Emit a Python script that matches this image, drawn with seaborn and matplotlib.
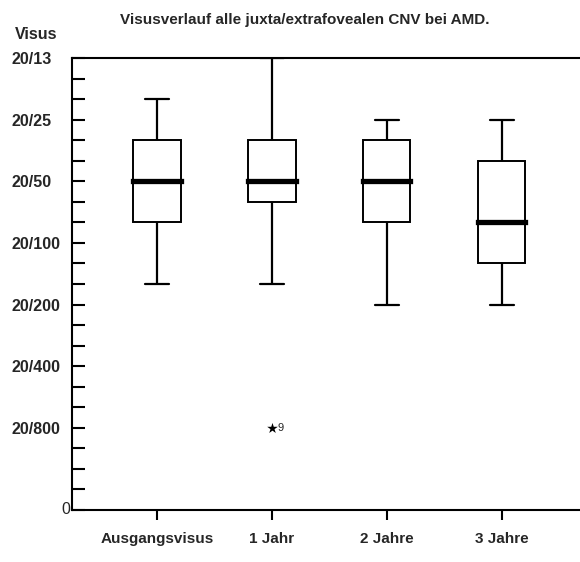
import numpy as np
import pandas as pd
import seaborn as sns
import matplotlib.pyplot as plt

# Visual acuity on a line scale: one unit = one acuity line, 0 = bottom of scale
categories = ["Ausgangsvisus", "1 Jahr", "2 Jahre", "3 Jahre"]
lower_whisker = [11, 11, 10, 10]
q1 = [14, 15, 14, 12]
median = [16, 16, 16, 14]
q3 = [18, 18, 18, 17]
upper_whisker = [20, 22, 19, 19]

outlier_group = ["1 Jahr"]
outlier_value = [4]
outlier_case = ["9"]

acuity_ticks = [22, 19, 16, 13, 10, 7, 4]
acuity_labels = ["20/13", "20/25", "20/50", "20/100", "20/200", "20/400", "20/800"]
line_ticks = list(range(0, 23))

title = "Visusverlauf alle juxta/extrafovealen CNV bei AMD."
y_title = "Visus"

# long table built from the five-number summaries
rows = []
for i, g in enumerate(categories):
    for v in (lower_whisker[i], q1[i], median[i], q3[i], upper_whisker[i]):
        rows.append({"Zeitpunkt": g, "Visus": v})
df = pd.DataFrame(rows)

sns.set_theme(style="white")
plt.rcParams["font.family"] = ["Liberation Sans", "DejaVu Sans"]

fig = plt.figure(figsize=(5.8, 5.62), dpi=100)
ax = fig.add_axes([72 / 580, 52 / 562, 1 - 72 / 580, (510 - 58) / 562])

sns.boxplot(
    data=df, x="Zeitpunkt", y="Visus", order=categories, ax=ax,
    whis=(0, 100), width=0.41, color="white", linecolor="black",
    linewidth=1.4, showfliers=False,
    medianprops=dict(linewidth=3.8, color="black", solid_capstyle="projecting"),
    whiskerprops=dict(linewidth=1.6),
    capprops=dict(linewidth=1.6),
)

sns.stripplot(
    x=outlier_group, y=outlier_value, order=categories, ax=ax,
    jitter=False, marker="*", size=8, color="black", linewidth=0,
)
for g, v, c in zip(outlier_group, outlier_value, outlier_case):
    ax.annotate(c, xy=(categories.index(g), v), xytext=(4, 0),
                textcoords="offset points", ha="left", va="center",
                fontsize=8)

ax.set_xlim(-0.74, 3.68)
ax.set_ylim(0, 22)
ax.set_xlabel("")
ax.set_ylabel("")

ax.set_yticks(acuity_ticks)
ax.set_yticklabels(acuity_labels, fontsize=11.5, fontweight="bold", ha="left")
ax.set_yticks(line_ticks, minor=True)
ax.tick_params(axis="y", which="both", direction="in", length=9.5,
               width=1.5, color="black", pad=43.5, left=True)
ax.annotate("0", xy=(0, 0), xycoords=("axes fraction", "data"),
            xytext=(-1.5, 0), textcoords="offset points",
            ha="right", va="center", fontsize=11.5)

ax.set_xticks(range(len(categories)))
ax.set_xticklabels(categories, fontsize=11, fontweight="bold")
ax.tick_params(axis="x", direction="out", length=7, width=1.5,
               color="black", pad=9, bottom=True)

for side in ("left", "bottom", "top"):
    ax.spines[side].set_visible(True)
    ax.spines[side].set_color("black")
    ax.spines[side].set_linewidth(1.5)
ax.spines["right"].set_visible(False)

fig.text(305 / 580, 1 - 24 / 562, title, ha="center", va="baseline",
         fontsize=11, fontweight="bold")
fig.text(15 / 580, 1 - 39 / 562, y_title, ha="left", va="baseline",
         fontsize=11.5, fontweight="bold")

fig.savefig("out.png", dpi=100)
